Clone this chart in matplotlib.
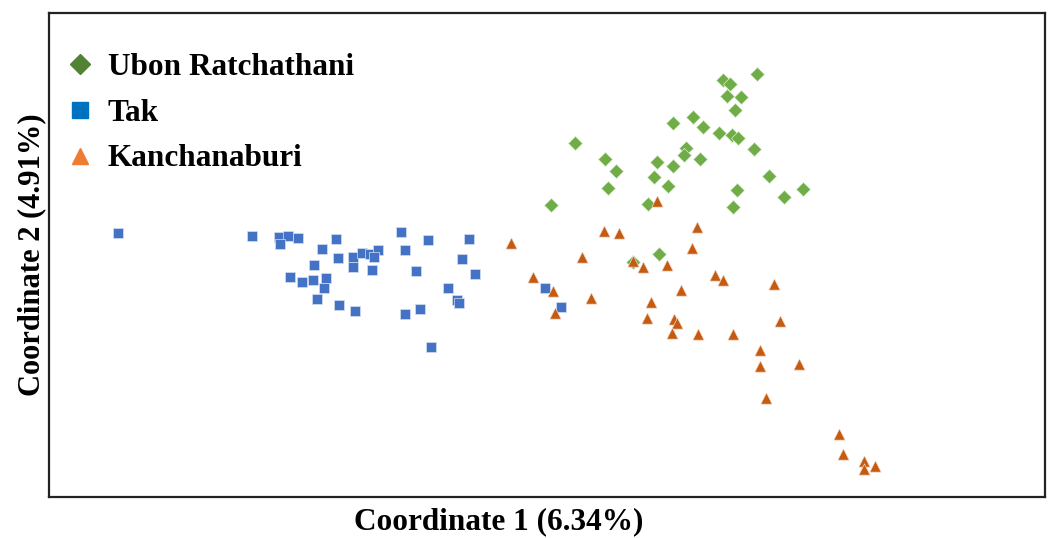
import matplotlib
matplotlib.use("Agg")
import matplotlib.pyplot as plt
from matplotlib.lines import Line2D

# PCoA scores (arbitrary units, y grows downward)
ubon_x = [757, 723, 730, 727, 741, 735, 693, 673, 703, 719, 732, 738, 575, 754, 686,
          684, 700, 605, 657, 673, 616, 654, 769, 608, 668, 737, 803, 784, 551, 648,
          733, 659, 633]
ubon_y = [74, 80, 84, 96, 97, 110, 117, 123, 127, 133, 135, 138, 143, 149, 148,
          155, 159, 159, 162, 166, 171, 177, 176, 188, 186, 190, 189, 197, 205, 204,
          207, 254, 262]

tak_x = [118, 252, 279, 288, 298, 280, 336, 401, 428, 469, 322, 405, 338, 353, 362,
         370, 378, 374, 353, 372, 314, 462, 416, 475, 290, 302, 313, 326, 324, 448,
         317, 457, 459, 339, 355, 420, 405, 431, 545, 561]
tak_y = [233, 236, 237, 236, 238, 244, 239, 232, 240, 239, 249, 250, 258, 257, 253,
         254, 250, 257, 267, 270, 265, 259, 271, 274, 277, 282, 280, 278, 288, 288,
         299, 300, 303, 305, 311, 309, 314, 347, 288, 307]

kan_x = [697, 604, 619, 511, 692, 582, 633, 643, 667, 533, 715, 723, 553, 774, 681,
         591, 651, 555, 647, 674, 677, 672, 698, 733, 780, 760, 760, 799, 766, 657,
         839, 843, 864, 864, 875]
kan_y = [227, 231, 233, 243, 248, 257, 261, 267, 265, 277, 275, 280, 291, 284, 290,
         298, 302, 313, 318, 319, 323, 333, 334, 334, 321, 350, 366, 364, 398, 201,
         434, 454, 461, 469, 466]

groups = ["Ubon Ratchathani", "Tak", "Kanchanaburi"]
point_colors = ["#70AD47", "#4472C4", "#C55A11"]
legend_colors = ["#548235", "#0070C0", "#ED7D31"]
markers = ["D", "s", "^"]

plt.rcParams["font.family"] = ["Liberation Serif", "DejaVu Serif"]
plt.rcParams["font.weight"] = "bold"

fig = plt.figure(figsize=(10.52, 5.38), dpi=100)
ax = fig.add_axes([49 / 1052, 41 / 538, 996 / 1052, 484 / 538])

ax.scatter(kan_x, kan_y, marker="^", s=66, color=point_colors[2],
           edgecolors="#f4d9c8", linewidths=0.5, zorder=3)
ax.scatter(ubon_x, ubon_y, marker="D", s=52, color=point_colors[0],
           edgecolors="#d9ecd0", linewidths=0.5, zorder=2)
ax.scatter(tak_x, tak_y, marker="s", s=54, color=point_colors[1],
           edgecolors="#d5def2", linewidths=0.5, zorder=2)

ax.set_xlim(49, 1045)
ax.set_ylim(497, 13)
ax.set_xticks([])
ax.set_yticks([])
for sp in ax.spines.values():
    sp.set_linewidth(1.6)
    sp.set_color("#222222")

handles = [Line2D([], [], linestyle="none", marker=m, color=c, markersize=ms)
           for m, c, ms in zip(markers, legend_colors, [10, 11, 12])]
ax.legend(handles, groups, loc="upper left", bbox_to_anchor=(0.012, 0.918),
          frameon=False, prop={"size": 22.5, "weight": "bold"},
          borderpad=0, borderaxespad=0,
          labelspacing=0.54, handletextpad=0.3, handlelength=1.2)

ax.set_ylabel("Coordinate 2 (4.91%)", fontsize=22, fontweight="bold", labelpad=2)
fig.text(499 / 1052, 16 / 538, "Coordinate 1 (6.34%)", ha="center", va="center",
         fontsize=22.5, fontweight="bold")

fig.savefig("out.png", dpi=100)
